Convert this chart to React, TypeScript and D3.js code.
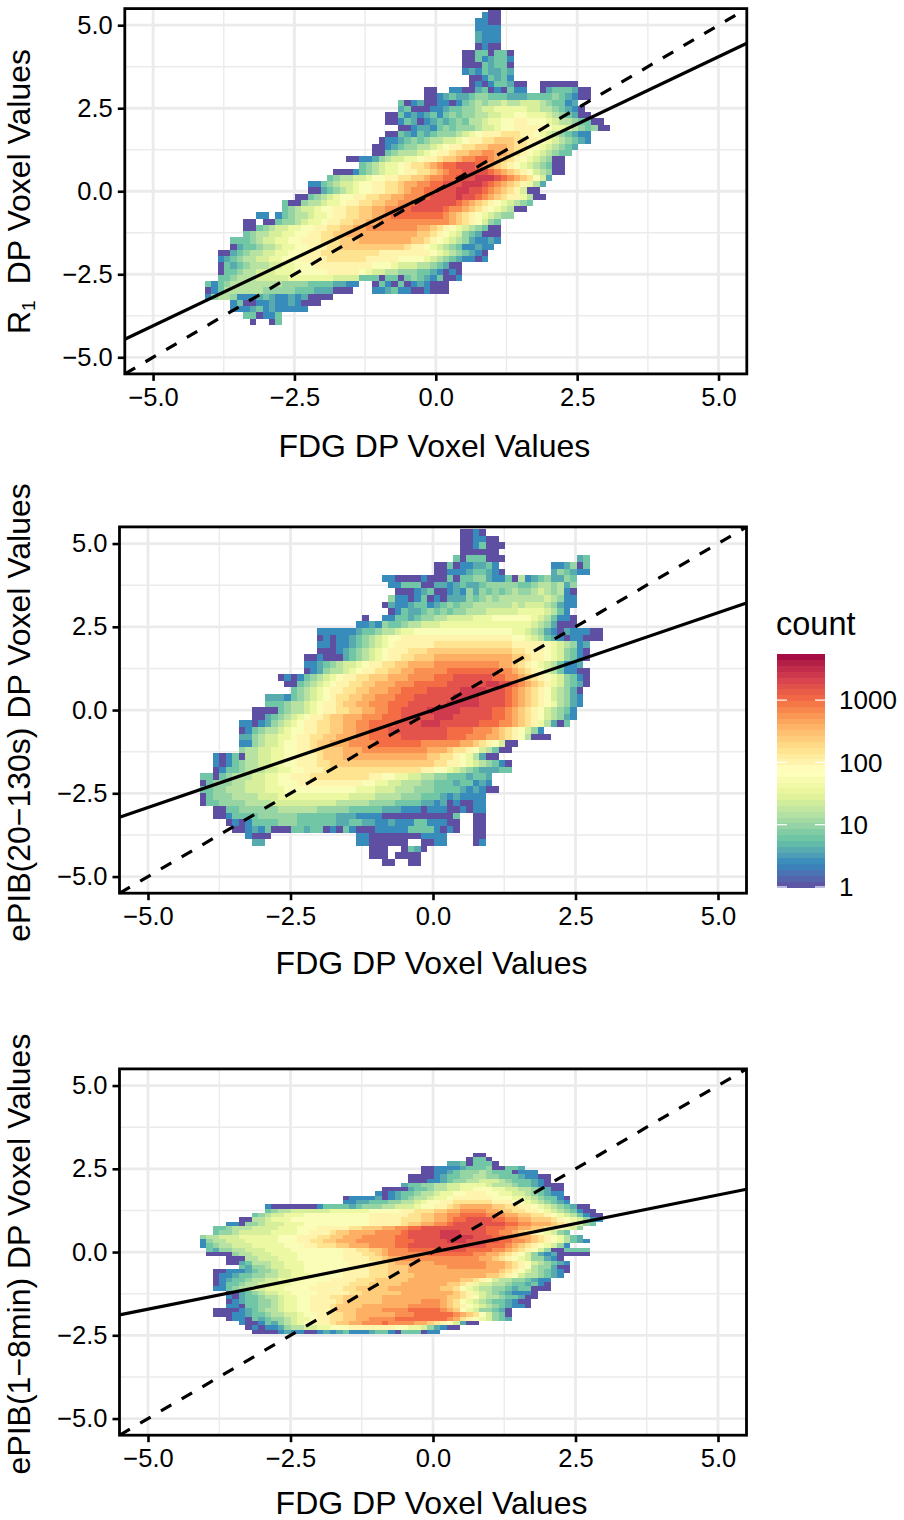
import { useEffect, useRef } from "react";
import * as d3 from "d3";

// one letter = one binned count, a -> countLevels[0], b -> countLevels[1] ...
const countLevels = [1, 1.6, 2.5, 4, 6.3, 10, 16, 25, 40, 63, 100, 160, 250, 400, 630, 1000, 1600, 2500, 4000];

const spectral = ["#5E4FA2", "#3288BD", "#66C2A5", "#ABDDA4", "#E6F598", "#FFFFBF", "#FEE08B", "#FDAE61", "#F46D43", "#D53E4F", "#9E0142"];

const axisTicks = [-5, -2.5, 0, 2.5, 5];
const minorTicks = [-3.75, -1.25, 1.25, 3.75];
const legendTicks = [1, 10, 100, 1000];

// x bins are shared by all panels
const binStartX = -4.088;
const binWidthX = 0.1139;

// [first column, counts], from the top row down
const r1Rows: [number, string][] = [
  [44, "aa"],
  [43, "caa"],
  [42, "ccaa"],
  [42, "cccc"],
  [42, "dccc"],
  [42, "dccc"],
  [42, "acaa"],
  [40, "aaeeaeea"],
  [40, "aaecdeec"],
  [40, "aaaedeea"],
  [40, "cdcedded"],
  [41, "aacedec"],
  [41, "acaceedaa..aaaaaa"],
  [34, "aa..ccaadeacaecc..adeeedaa"],
  [34, "aacdeddeffeeedddeeeefedcaa"],
  [30, "eacdaaccacefgfgghgghhhgfeecd"],
  [30, "deaaaccdeeffghhiiiiihhggfedca"],
  [28, "aaecdcdecefeffgghhiijjiiihgfedaa"],
  [28, "aacedacdedefegghiijjkkjjjihggfeeaa"],
  [30, "aacddcefefffghhijjkkkkkjiihgfefaa"],
  [28, "aaedcedefffghijkkklllkkjihgfedcc"],
  [27, "accdefefgghhijkkllmmmllkkjihgfedc"],
  [26, "aacdeffgghijkkllmmnnnmllkjihgfed"],
  [26, "aaefggghijkklmmnnoonnmlkjihgfee"],
  [22, "aaccdfghhiijkklmmnoopponmlkjihgfaa"],
  [24, "efghiijkllmnoppqqqponmlkjihgfeaa"],
  [20, "aaacefghiijkkllmnoppqqqqponmlkjhgfaa"],
  [19, "efgghhijjkkllmmnooppqqqrrrqponmljhd"],
  [16, "ccefghhijjkkllmnnooppqqqrrrqponmlkigd"],
  [16, "aadefghijjkkllmnooppqqqrrqqponmlkhaa"],
  [14, "aaefghijjkkllmmnnooopqqqqrqqponmlkkigaa"],
  [12, "eaafgghiijkkllmmnnoopqqqqqqponmlkjihgfe"],
  [12, "efghhijjkkllmmnnooppqqqqqpoonmlkjihgaa"],
  [8, "cc.cefgghiijkkllmmnnopppppppponmlkjihgff"],
  [6, "aa.aaeffghiijkkllmmnnooooooooooonmlkjhfe"],
  [6, "aaefghhiijjkkllmmnnoooooooonnmlkjihgfeaa"],
  [6, "efgghhiijjkkllmmnnnnnnnnnnnmmlkjihfedaaa"],
  [4, "eeefghhiijjkkklllmmmnnnnnnnnmmlkjihgfdccdc"],
  [4, "adeefgghiijjkkkllmmmmmmmmmmlkkjihgfeccdcc"],
  [2, "aadefgghhiijjkkklllllllllkkkkkkkkjihgfedca"],
  [2, "cdefgghhiijjjkkkkllllllkkkkkjjjjihgfedccac"],
  [2, "aedefggghhiijjjkkkkkkkkkjjjihhhggfedaa"],
  [2, "aeefgghhhiiijjjjjkkkkkjihhggfffeedcaca"],
  [2, "eefggghhhhhiiiiiiihhhheeeaeeaefedceaac"],
  [0, "ecefggggggggffffeeeeddcc..aecaeacdcaaa"],
  [0, "aceggggggfffffeeedddaaa...ccdeccaacaaa"],
  [0, "cfggfcccdedccdcdaaaa"],
  [4, "ceaaccdccdcaaa"],
  [4, "cccdecdccccc"],
  [6, "eeacce"],
  [7, "a..ae"],
];

const epib20Rows: [number, string][] = [
  [40, "aaca"],
  [40, "aaccaa"],
  [40, "aaceaaa"],
  [40, "aaaaaa"],
  [39, "eaeeeaaa...........de"],
  [36, "aaeaccddec........ccdfae"],
  [36, "aacccdeedca.......dfedcc"],
  [28, "ccaaaacaaaeaeeffdcceagcdefddfe"],
  [29, "cceeeaaddcdeddefffffeefggfgdf"],
  [30, "aaacdeaacdcfdfefefgffghgfgca"],
  [29, "fccaceacadddfefgfggggggghgfcc"],
  [28, "adccdeecdefeffgggggghghhhgfdcc"],
  [29, "aceddefefeffggghhhhhiiiihgec"],
  [25, "a..cceedeffgghhhhiiijjjjjjihgecca"],
  [24, "ccdcfeefgghhhiiiiiiiiiiiiiihgfdaaa"],
  [18, "ccccccdeefgghiijjjjjjjjjjjjjjjiihgfdcadcccaa"],
  [18, "acaccdefghijjkkkkkkkkkkkkkkkkkjjihgedcaccaaa"],
  [18, "ccaccdefghijkkkkkkllllllllllllkkkkkjihgfcd"],
  [18, "aaacdefghijkkklllmmmmmmmmmmmmmllkkkjihfeca"],
  [16, "aacaaadefghijkkllmmmnnnnnnnnnnnnmmlkkjihfeca"],
  [16, "ccdefghhijkkllmmnnnnoooooooooonnmlkjihgeccd"],
  [16, "acdfgghijkkllmmnnoooooppppppppoonmlkjhgeccaa"],
  [12, "acacefghijkkllmmmnnnoooopppqqqqqqppoonmlkjihfeca"],
  [13, "aaefghijkkllmmnnnooopppppqqqqqqrrqqponmlkihfeda"],
  [14, "efghijkkllmmnnnooppppqqqqqrrrrqqqponmlkjhgfda"],
  [10, "dddcefghijkllmmnnooopppqqqqqqrrrrqqqqponmlkjhgfdc"],
  [10, "eeefgghijkklmmnnooopppqqqqqqrrrrrqqqqponmlkjigfdc"],
  [8, "aaaaefgghijkkllmmnnooppqqqqrrrrrqqqqqpponmlkjhgfec"],
  [8, "aadefghijkklmmnnnooopppqqqqqrrrqqqqqqpponmlkjhgfdc"],
  [6, "ccacdfghijkkllmmnnooppppqqqqrrrqqqqqqpppoonmlkigdae"],
  [6, "acefgghijjkkllmmnnoopppqqqqqqqqqppppooonmlkjhfc"],
  [6, "ddfghhiijkkllmmnnnoopppppqqqqqqqpppooonnmlkjgaaa"],
  [6, "ccfghhijjkklmmnnnoooopppppppoooooonnmlkjhaa"],
  [6, "fgghhiijjkkllmmmnnnoooooooooonnnmllkjhgeaa"],
  [2, "caceagghhiijjkkklmmmnnnnnnnnnnnnnmmllkjigdaa"],
  [2, "cacefgghhiijjkkkllmmmmmmmmmmmmmmmmllkkjihgfeca"],
  [2, "aceefggghhiijjkkklllllllllllllllkkjjihgfedddee"],
  [0, "eeaefggghhiijjkkklllllllllkkjjiihhggffeeedeed"],
  [0, "aefffgghhhiijjjkkkkkkkkkkjjiihhgggffeeedeecdc"],
  [0, "eeffggghhhiiijjjjjjjjjjjiiihhhgggfffeeeedcdcaa"],
  [0, "aefffgggghhhiiiiiiiiiiihhhhggggfffeeedcdcccc"],
  [0, "aeeffffgggghhhhhhhhhhgggggffffeeeeddcdacaacc"],
  [2, "aaeeffffffggggggfffffeeeeedddcccacccaacacc"],
  [2, "aaceeeeffffffeeeeeedddccccaaaaaaaaaaae..aa"],
  [4, "acaceeeefffeeeeeeddeeddccdccceecccaa..aa"],
  [5, "aacdceaaaeedeeacaecaaaccccceeeecaca..aa"],
  [7, "caaa.............ccaaaaaaaacccc....aa"],
  [8, "dd..............ccaaaaaa..aacc....ac"],
  [26, "aaa..aeda"],
  [26, "aaa.aaaa"],
  [28, "aa..aa"],
];

const epib1Rows: [number, string][] = [
  [42, "aa"],
  [41, "aeea"],
  [38, "ddeaeeea"],
  [34, "aaccccdeeefaaeed"],
  [34, "aaccdefffgfeeeaccc"],
  [32, "aaaacdeeffggffeeedccaa"],
  [32, "aaaccdeffgghhhgfeeedca"],
  [31, "deeffgghhiiiihgggfeedcaaa"],
  [28, "aaaadeefgghhiijjjiihhggfedaa"],
  [27, "cacdeefgghiijjkkkjjiihhgfedcc"],
  [22, "accccdacdefgghiijkkkkkkjjjiihgfeeca"],
  [22, "ccddeeeffgghijjkkllllllkkkjjihgfedc"],
  [10, "caaaaaaaceeeedefffgghhhijjkklmnnnnnmmllkkjihgfedaa"],
  [10, "efgghhhhhhiiiiiijjjjjkklllmmnnoooonnmmllkkjihgfecaa"],
  [8, "efghhiiijjjjjjjjjjkkkkkkllmmnnooppppooonnmmllkjihgecaa"],
  [6, "aagghiiijjjjjjjjjjjjkkkkklllmmnnoppqqqqppoonnmmmlkjihfcc"],
  [4, "ccaffghhhiiijjjjjjjjjjkkkkklmmnnoopqqqqqqqqppoonnnmlkjhfe"],
  [2, "eefggghhhhiiijjjkkkkkllmmmnnooppqqqqqqqqqqpppoonnmmlkjihf"],
  [2, "effghhhhhiiiijjkkklmmnnnnoooopqqqqqrrrqqqqppoonmlkjihfe"],
  [0, "fgghhhiiiiiijjjkkkllmmnnnoooooppqqqqqrrrrrqqqppoonnmlkjiged"],
  [0, "cfgghhhiiiiijjjkkllmmnnnoooooopppqqqqqrrrqqqqqppoonmlkjigedc"],
  [0, "cefgghhhiiiiijjjkklllmmnnnooooppqqqqqqqqqqqqppponmlkjihfc"],
  [1, "edffgghhhiiiijjjjjjjjkkllmmnooopppppqqqqppppoonmlkjhfaaeeee"],
  [1, "aaaafgghhhiiiijjjjjjjkkkllmnoooooopppppppoonnmlkjhfdcdaaaaa"],
  [4, "aaagghhhiiijjjjjjjkkkkllmnnoooooooooooonnmlkjihffdca"],
  [4, "aadeggghhiiijjjjjjjkkkkllmnnnnnnoooooooonnnmlkjhgfedc"],
  [6, "edffghhiiijjjjjjjkkklllmmmnnnnnnoooooonnnmlkjgffdaa"],
  [2, "aacccdeffghhiijjjjjjkkkklllmmmnnnnnnnnnnnnnnmlkjhgfedca"],
  [2, "accdeeffgghhiiijjjjjkkkklllmmmmnnnnnnnnnnnmmlkjhggfedc"],
  [2, "acdeefgghhiiijjjjjkkkklllmmmmmnnnnnnnnmmlkjhggffedcc"],
  [2, "aceefgghhiiijjjjkkkkklllmmmmmnnnnnnnmmlkihhggfeedeca"],
  [2, "ccefgghhiiijjjjkkkkkllmmmmmnnnnnnnnmmljihggffedeeaaa"],
  [4, "aadefghhiijjjjkkkkkllmmmmmmnnnnnnnnmlkihgfedccca"],
  [4, "cadeefgghiijjkkkllmmmmmmnnnnnnnnnnmmlkjhggfeedaa"],
  [4, "acdeeffghiijjkkkklmmmmmmnnnnnnooonmljihgfeedcaa"],
  [4, "ccaeeffghiijjkkklmmmmnnnnnnnooooonmlkjihgfedcca"],
  [2, "aaaacdefgghiijjkkklmmmnnnnooooppppponmjihffeda"],
  [2, "aaaccdeefgghhijjkkllmmnnnnnnooopppppponmljhfea"],
  [4, "accaedeffghiijkkllmmnnoooopppppppponlkjihfed"],
  [6, "caacedfghijjkklmmnnooopoooonnmlkjhdaa"],
  [7, "acaccdfgghhiijjjkkkkkkkjjiihfdcaa"],
  [8, "aaaacdccaacdcdecccdeecaeeeacc"],
];

const fitSlopes = [0.81, 0.585, 0.343];
const rowTops = [5.582, 5.435, 2.985];
const rowHeights = [0.1884, 0.1982, 0.1296];

const panelRows = [r1Rows, epib20Rows, epib1Rows];
const yTitles = ["", "ePIB(20\u2212130s) DP Voxel Values", "ePIB(1\u22128min) DP Voxel Values"];

// pixel boxes of the three panels
const boxes = [
  { left: 124.8, right: 746.8, top: 8.6, bottom: 373.9, xTitleY: 457, yTitleY: 191.5 },
  { left: 119.5, right: 746.5, top: 526.9, bottom: 893.2, xTitleY: 974, yTitleY: 712.5 },
  { left: 119.5, right: 746.5, top: 1068.9, bottom: 1435.2, xTitleY: 1514, yTitleY: 1254 },
];

const font = "'Liberation Sans', Arial, sans-serif";
const maxCount = 5500;

const color = d3
  .scaleSequentialLog(d3.piecewise(d3.interpolateLab, spectral))
  .domain([1, maxCount]);

const App = () => {
  const svgRef = useRef<SVGSVGElement | null>(null);

  useEffect(() => {
    if (!svgRef.current) return;
    const svg = d3.select(svgRef.current);
    svg.selectAll("*").remove();

    boxes.forEach((box, p) => {
      const x = d3.scaleLinear().domain([-5.5, 5.5]).range([box.left, box.right]);
      const y = d3.scaleLinear().domain([-5.5, 5.5]).range([box.bottom, box.top]);
      const g = svg.append("g");

      g.append("clipPath")
        .attr("id", `clip${p}`)
        .append("rect")
        .attr("x", box.left)
        .attr("y", box.top)
        .attr("width", box.right - box.left)
        .attr("height", box.bottom - box.top);

      // grid
      minorTicks.forEach((t) => {
        g.append("line").attr("x1", x(t)).attr("x2", x(t)).attr("y1", box.top).attr("y2", box.bottom)
          .attr("stroke", "#EBEBEB").attr("stroke-width", 1.4);
        g.append("line").attr("y1", y(t)).attr("y2", y(t)).attr("x1", box.left).attr("x2", box.right)
          .attr("stroke", "#EBEBEB").attr("stroke-width", 1.4);
      });
      axisTicks.forEach((t) => {
        g.append("line").attr("x1", x(t)).attr("x2", x(t)).attr("y1", box.top).attr("y2", box.bottom)
          .attr("stroke", "#EBEBEB").attr("stroke-width", 2.8);
        g.append("line").attr("y1", y(t)).attr("y2", y(t)).attr("x1", box.left).attr("x2", box.right)
          .attr("stroke", "#EBEBEB").attr("stroke-width", 2.8);
      });

      // bins
      const cells: { col: number; row: number; count: number }[] = [];
      panelRows[p].forEach(([start, levels], row) => {
        levels.split("").forEach((ch, i) => {
          if (ch === ".") return;
          cells.push({ col: start + i, row, count: countLevels[ch.charCodeAt(0) - 97] });
        });
      });
      const plot = g.append("g").attr("clip-path", `url(#clip${p})`);
      plot
        .selectAll("rect")
        .data(cells)
        .join("rect")
        .attr("x", (d) => x(binStartX + d.col * binWidthX))
        .attr("width", x(binWidthX) - x(0))
        .attr("y", (d) => y(rowTops[p] - d.row * rowHeights[p]))
        .attr("height", y(0) - y(rowHeights[p]))
        .attr("fill", (d) => color(d.count))
        .attr("shape-rendering", "crispEdges");

      // fit and identity lines
      const line = d3
        .line<number>()
        .x((d) => x(d))
        .y((d) => y(d * fitSlopes[p]));
      plot.append("path").attr("d", line([-5.5, 5.5])).attr("fill", "none")
        .attr("stroke", "#000").attr("stroke-width", 3.2);
      plot.append("line").attr("x1", x(-5.5)).attr("y1", y(-5.5)).attr("x2", x(5.5)).attr("y2", y(5.5))
        .attr("stroke", "#000").attr("stroke-width", 3.2).attr("stroke-dasharray", "12 12");

      // axes
      const xAxis = g.append("g").attr("transform", `translate(0,${box.bottom})`)
        .call(d3.axisBottom(x).tickValues(axisTicks).tickFormat(d3.format(".1f")).tickSize(7).tickSizeOuter(0).tickPadding(7));
      const yAxis = g.append("g").attr("transform", `translate(${box.left},0)`)
        .call(d3.axisLeft(y).tickValues(axisTicks).tickFormat(d3.format(".1f")).tickSize(7).tickSizeOuter(0).tickPadding(5));
      [xAxis, yAxis].forEach((a) => {
        a.select(".domain").remove();
        a.selectAll("line").attr("stroke", "#000").attr("stroke-width", 2.6);
        a.selectAll("text").attr("fill", "#000").style("font-family", font).style("font-size", "25.5px");
      });

      g.append("rect")
        .attr("x", box.left).attr("y", box.top)
        .attr("width", box.right - box.left).attr("height", box.bottom - box.top)
        .attr("fill", "none").attr("stroke", "#000").attr("stroke-width", 2.8);

      // titles
      g.append("text")
        .attr("x", (box.left + box.right) / 2 - 1.5)
        .attr("y", box.xTitleY)
        .attr("text-anchor", "middle")
        .style("font-family", font).style("font-size", "32px")
        .text("FDG DP Voxel Values");

      const yTitle = g.append("text")
        .attr("transform", `translate(30,${box.yTitleY}) rotate(-90)`)
        .attr("text-anchor", "middle")
        .style("font-family", font).style("font-size", "32px");
      if (p === 0) {
        yTitle.append("tspan").text("R");
        yTitle.append("tspan").attr("dy", 5).style("font-size", "19px").text("1");
        yTitle.append("tspan").attr("dy", -5).attr("dx", 16).text("DP Voxel Values");
      } else {
        yTitle.text(yTitles[p]);
      }
    });

    // legend
    const legendTop = 654;
    const legendBottom = 887;
    const legendY = d3.scaleLog().domain([1, maxCount]).range([legendBottom, legendTop]);
    const legend = svg.append("g");
    const steps = d3.range(40);
    const stepH = (legendBottom - legendTop) / steps.length;
    legend
      .selectAll("rect")
      .data(steps)
      .join("rect")
      .attr("x", 777)
      .attr("width", 48)
      .attr("y", (d) => legendBottom - (d + 1) * stepH)
      .attr("height", stepH + 0.5)
      .attr("fill", (d) => color(legendY.invert(legendBottom - (d + 0.5) * stepH)))
      .attr("shape-rendering", "crispEdges");
    legendTicks.forEach((t) => {
      legend.append("line").attr("x1", 777).attr("x2", 787).attr("y1", legendY(t)).attr("y2", legendY(t))
        .attr("stroke", "#fff").attr("stroke-width", 1.2);
      legend.append("line").attr("x1", 815).attr("x2", 825).attr("y1", legendY(t)).attr("y2", legendY(t))
        .attr("stroke", "#fff").attr("stroke-width", 1.2);
      legend.append("text").attr("x", 839).attr("y", legendY(t)).attr("dy", "0.36em")
        .style("font-family", font).style("font-size", "26px").text(String(t));
    });
    legend.append("text").attr("x", 776).attr("y", 635)
      .style("font-family", font).style("font-size", "32.5px").text("count");
  }, []);

  return (
    <svg
      ref={svgRef}
      width={904}
      height={1520}
      style={{ position: "absolute", left: 0, top: 0, background: "#fff" }}
    ></svg>
  );
};

export default App;
